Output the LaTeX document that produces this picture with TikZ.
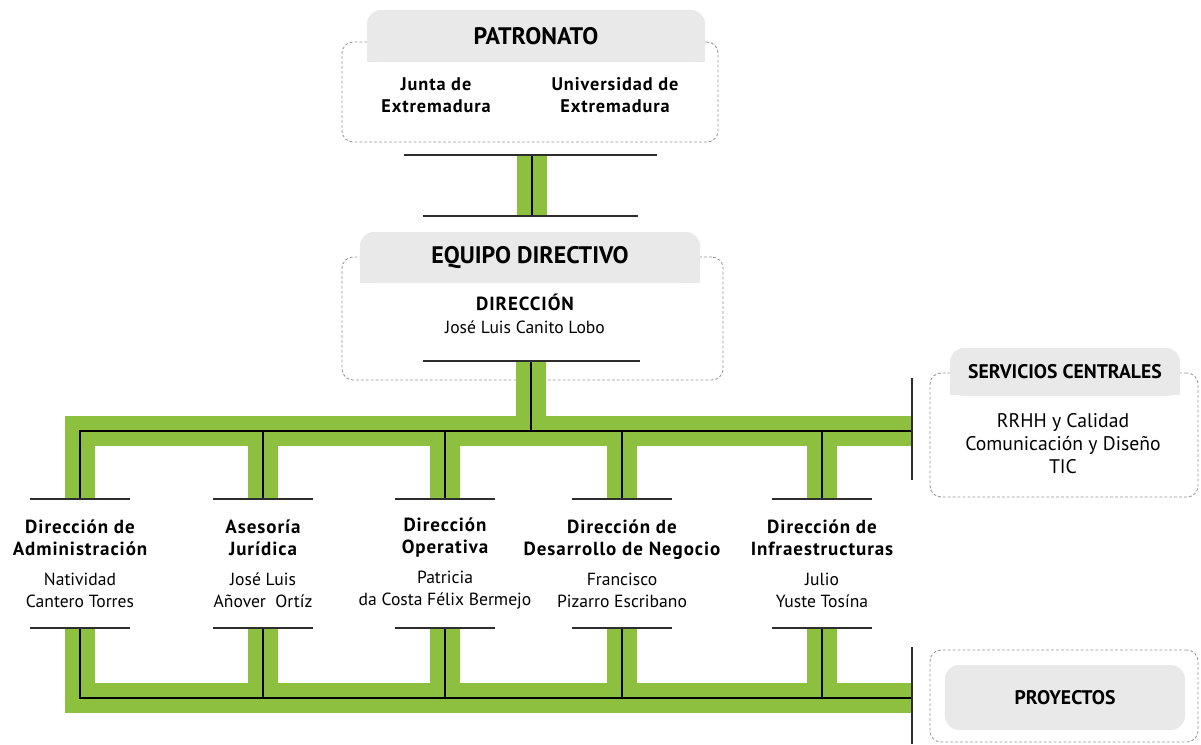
\documentclass[tikz,border=0pt]{standalone}
\usepackage{fontspec}
\setmainfont{PT Sans}
\newfontfamily\spaced{PT Sans}[LetterSpace=5.0]
\usetikzlibrary{calc}

\definecolor{busgreen}{RGB}{141,192,62}
\definecolor{hdrgray}{RGB}{233,233,233}
\definecolor{dashgray}{RGB}{150,150,150}
\definecolor{bargray}{RGB}{45,45,45}

\newcommand{\dtitle}[1]{{\spaced\bfseries\fontsize{13.5}{15.6}\selectfont #1}}

\tikzset{
  dbox/.style={draw=dashgray, line width=0.6pt, dash pattern=on 2pt off 1.5pt, rounded corners=8pt},
  hdr/.style={fill=hdrgray, rounded corners=10pt, font=\bfseries\fontsize{17}{20}\selectfont},
  smallhdr/.style={hdr, font=\bfseries\fontsize{14}{17}\selectfont},
  bar/.style={draw=bargray, line width=1.2pt},
  bus/.style={draw=black, line width=0.9pt, preaction={draw=busgreen, line width=22pt, line join=miter}},
  dept/.style={align=center, inner sep=0pt, minimum height=3.225cm, font=\fontsize{12.5}{15.6}\selectfont},
  names/.style={align=center, font=\fontsize{12.5}{15.6}\selectfont},
  orgname/.style={align=center, font=\spaced\bfseries\fontsize{13}{15.6}\selectfont},
}

\begin{document}
\begin{tikzpicture}[x=0.025cm, y=-0.025cm]
\useasboundingbox (0,0) rectangle (1201,744);

% patronato
\node[dbox, minimum width=9.4cm, minimum height=2.5cm] (patbox) at (530,92) {};
\fill[hdrgray] (367,36) rectangle (705,62);
\node[hdr, minimum width=8.45cm, minimum height=1.3cm] (pat) at (536,36) {PATRONATO};
\node[orgname] (junta) at (436,95) {Junta de\\Extremadura};
\node[orgname] (uex) at (615,95) {Universidad de\\Extremadura};

% equipo directivo
\node[dbox, minimum width=9.525cm, minimum height=3.075cm] (eqbox) at (532.5,318.5) {};
\fill[hdrgray] (360,258) rectangle (700,283);
\node[hdr, minimum width=8.5cm, minimum height=1.275cm] (eq) at (530,257.5) {EQUIPO DIRECTIVO};
\node[names] (dir) at (525,314) {\dtitle{DIRECCIÓN}\\[1pt]José Luis Canito Lobo};
\coordinate (dirbar) at (531,361);

% patronato -> equipo
\coordinate (pattap) at (532,155);
\coordinate (eqtap) at (532,216);
\draw[bus] (pattap) -- (eqtap);
\draw[bar] ([xshift=-3.2cm]pattap) -- ([xshift=3.125cm]pattap);
\draw[bar] ([xshift=-2.725cm]eqtap) -- ([xshift=2.65cm]eqtap);

% direcciones
\node[dept] (adm) at (80,563.5) {\dtitle{Dirección de}\\\dtitle{Administración}\\[6pt]Natividad\\Cantero Torres};
\node[dept] (ase) at (263,563.5) {\dtitle{Asesoría}\\\dtitle{Jurídica}\\[6pt]José Luis\\Añover\ \ Ortíz};
\node[dept] (ope) at (445,563.5) {\dtitle{Dirección}\\\dtitle{Operativa}\\[6pt]Patricia\\da Costa Félix Bermejo};
\node[dept] (des) at (622,563.5) {\dtitle{Dirección de}\\\dtitle{Desarrollo de Negocio}\\[6pt]Francisco\\Pizarro Escribano};
\node[dept] (inf) at (822,563.5) {\dtitle{Dirección de}\\\dtitle{Infraestructuras}\\[6pt]Julio\\Yuste Tosína};

% buses
\coordinate (srvtap) at (912,431);
\coordinate (prjtap) at (912,698);
\draw[bus] (adm.north) |- (srvtap)
  (dirbar) -- (dirbar |- srvtap)
  (ase.north) -- (ase.north |- srvtap)
  (ope.north) -- (ope.north |- srvtap)
  (des.north) -- (des.north |- srvtap)
  (inf.north) -- (inf.north |- srvtap);
\draw[bus] (adm.south) |- (prjtap)
  (ase.south) -- (ase.south |- prjtap)
  (ope.south) -- (ope.south |- prjtap)
  (des.south) -- (des.south |- prjtap)
  (inf.south) -- (inf.south |- prjtap);

\foreach \n in {adm,ase,ope,des,inf}{
  \draw[bar] ([xshift=-1.25cm]\n.north) -- ([xshift=1.25cm]\n.north);
  \draw[bar] ([xshift=-1.25cm]\n.south) -- ([xshift=1.25cm]\n.south);
}
\draw[bar] ([xshift=-2.7cm]dirbar) -- ([xshift=2.725cm]dirbar);
\draw[bar] ([yshift=1.325cm]srvtap) -- ([yshift=-1.225cm]srvtap);
\draw[bar] ([yshift=1.275cm]prjtap) -- ([yshift=-1.15cm]prjtap);

% servicios centrales
\node[dbox, minimum width=6.7cm, minimum height=3.1cm] (srvbox) at (1064,435) {};
\fill[hdrgray] (950,371) rectangle (1180,395);
\node[smallhdr, minimum width=5.75cm, minimum height=1.2cm] (srv) at (1065,372) {SERVICIOS CENTRALES};
\node[names, font=\fontsize{14}{16.4}\selectfont] (srvlist) at (1063,444) {RRHH y Calidad\\Comunicación y Diseño\\TIC};

% proyectos
\node[dbox, minimum width=6.7cm, minimum height=2.3cm] (prjbox) at (1064,696) {};
\node[smallhdr, minimum width=6cm, minimum height=1.625cm] (prj) at (1065,697.5) {PROYECTOS};
\end{tikzpicture}
\end{document}
